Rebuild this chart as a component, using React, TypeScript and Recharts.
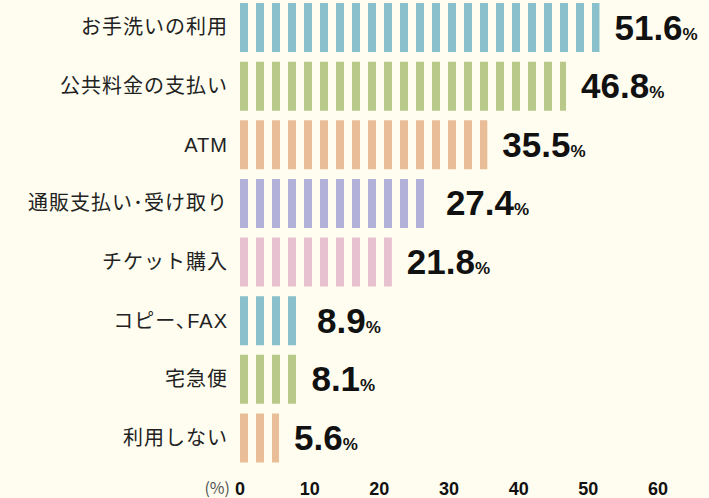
import { Bar, BarChart, Cell, LabelList, XAxis, YAxis } from "recharts";

const categories = [
  "お手洗いの利用",
  "公共料金の支払い",
  "ATM",
  "通販支払い･受け取り",
  "チケット購入",
  "コピー､FAX",
  "宅急便",
  "利用しない",
];
const values = [51.6, 46.8, 35.5, 27.4, 21.8, 8.9, 8.1, 5.6];
const colors = ["#89c0cc", "#b8c989", "#e8bd98", "#b1b1d9", "#e8c1d0", "#89c0cc", "#b8c989", "#e8bd98"];
const xTicks = [0, 10, 20, 30, 40, 50, 60];

const data = categories.map((name, i) => ({ name, value: values[i] }));

const PLOT_LEFT = 240;

const ValueLabel = (props: any) => {
  const { x, y, width, height, value } = props;
  return (
    <text
      x={x + width + 15}
      y={y + height / 2 + 12}
      fill="#111"
      fontFamily="'Liberation Sans', Arial, sans-serif"
      fontWeight="bold"
    >
      <tspan fontSize={35}>{value.toFixed(1)}</tspan>
      <tspan fontSize={17}>%</tspan>
    </text>
  );
};

const XTick = (props: any) => {
  const { x, y, payload } = props;
  return (
    <g>
      {payload.value === 0 && (
        <text x={x - 10} y={y + 19} textAnchor="end" fontSize={16} fill="#555" fontFamily="'Noto Sans CJK JP', sans-serif">
          (%)
        </text>
      )}
      <text
        x={x}
        y={y + 20}
        textAnchor="middle"
        fontSize={18}
        fontWeight="bold"
        fill="#111"
        fontFamily="'Liberation Sans', Arial, sans-serif"
      >
        {payload.value}
      </text>
    </g>
  );
};

export default function App() {
  return (
    <div style={{ position: "absolute", left: 0, top: 0, width: 709, height: 498, background: "#fefdef" }}>
      <BarChart
        width={709}
        height={498}
        data={data}
        layout="vertical"
        barCategoryGap={5}
        margin={{ top: -2, right: 51, bottom: 0, left: 0 }}
      >
        <defs>
          {colors.map((c, i) => (
            <pattern
              key={i}
              id={`stripe${i}`}
              patternUnits="userSpaceOnUse"
              x={PLOT_LEFT}
              y={0}
              width={16}
              height={10}
            >
              <rect x={0} y={0} width={8} height={10} fill={c} />
            </pattern>
          ))}
        </defs>
        <XAxis
          type="number"
          domain={[0, 60]}
          ticks={xTicks}
          axisLine={false}
          tickLine={false}
          height={31}
          tick={<XTick />}
          interval={0}
        />
        <YAxis
          type="category"
          dataKey="name"
          width={240}
          axisLine={false}
          tickLine={false}
          tickSize={0}
          tickMargin={12}
          tick={{
            fontSize: 20,
            fill: "#222",
            letterSpacing: 1,
            fontFamily: "'Liberation Sans', 'Noto Sans CJK JP', sans-serif",
          }}
          interval={0}
        />
        <Bar dataKey="value" isAnimationActive={false}>
          {data.map((d, i) => (
            <Cell key={i} fill={`url(#stripe${i})`} />
          ))}
          <LabelList dataKey="value" content={<ValueLabel />} />
        </Bar>
      </BarChart>
    </div>
  );
}
